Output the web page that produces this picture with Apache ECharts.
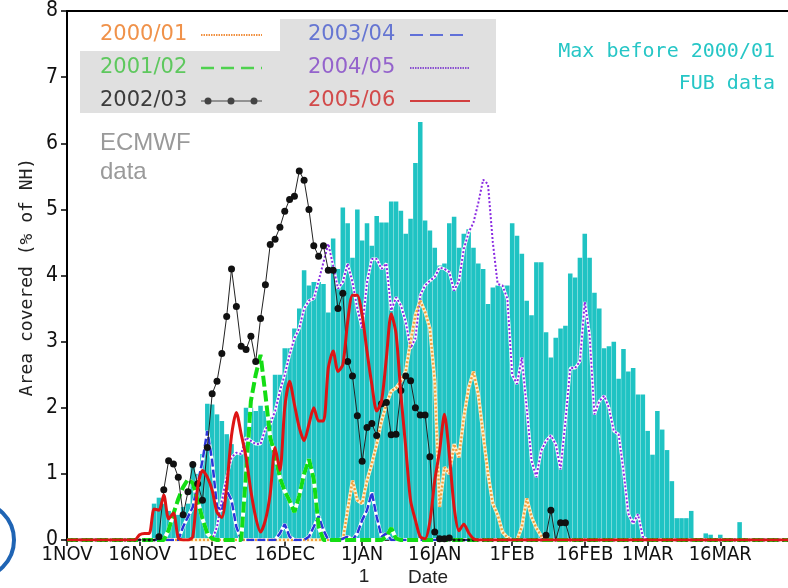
<!DOCTYPE html>
<html><head><meta charset="utf-8">
<script src="https://cdn.jsdelivr.net/npm/echarts@6/dist/echarts.min.js"></script>
<style>html,body{margin:0;padding:0;background:#fff}#c{width:788px;height:588px}</style>
</head><body><div id="c"></div>
<script>
const tickDays = [0,15,30,45,61,76,92,107,120,135];
const tickLabels = ['1NOV','16NOV','1DEC','16DEC','1JAN','16JAN','1FEB','16FEB','1MAR','16MAR'];
const yTicks = [0,1,2,3,4,5,6,7,8];

const maxBefore = [
0,0,0,0,0,0,0,0,0,0,
0,0,0,0,0,0,0,0,0.55,0.64,
0.55,0.44,0.4,0.38,0.5,0.55,1.15,1.0,1.3,2.06,
2.05,1.9,1.8,1.6,1.45,1.3,1.3,2.0,2.0,1.95,
2.03,1.95,1.85,2.5,2.5,2.9,2.9,3.2,3.5,4.08,
3.85,3.9,3.9,3.87,3.44,4.56,4.1,5.03,4.79,4.27,
5.0,4.53,4.79,4.45,4.9,4.8,4.8,5.12,5.12,4.98,
4.63,4.86,5.7,6.32,4.83,4.68,4.42,4.15,4.18,4.79,
4.89,4.42,4.63,4.7,4.42,4.18,4.1,3.57,3.82,3.85,
3.85,3.85,4.79,4.6,4.33,3.62,3.4,4.2,4.2,3.14,
2.76,3.06,3.2,3.24,4.03,3.97,4.27,4.63,4.27,3.74,
3.5,2.9,2.93,3.0,2.44,2.89,2.55,2.6,2.2,2.2,
1.65,1.29,1.95,1.67,1.36,0.89,0.33,0.33,0.33,0.44,
0,0,0.1,0.08,0.03,0.08,0,0,0,0.27,
0,0,0,0,0,0,0,0,0,0];

const s2000 = [
0,0,0,0,0,0,0,0,0,0, 0,0,0,0,0,0,0,0,0,0,
0,0,0,0,0,0,0,0,0,0, 0,0,0,0,0,0,0,0,0,0,
0,0,0,0,0,0,0,0,0,0,
0,0,0,0,0,0,0,0,0.45,0.9,
0.6,0.55,0.9,1.15,1.45,1.8,2.05,2.25,2.3,2.4,
2.55,3.0,3.4,3.62,3.45,3.2,2.4,0.5,1.1,1.0,
1.45,1.25,1.85,2.3,2.55,2.2,1.6,1.0,0.55,0.38,
0.12,0.04,0,0,0.2,0.63,0.35,0.18,0.06,0,
0,0,0,0,0,0,0,0,0,0, 0,0,0,0,0,0,0,0,0,0,
0,0,0,0,0,0,0,0,0,0, 0,0,0,0,0,0,0,0,0,0,
0,0,0,0,0,0,0,0,0,0];

const s2001 = [
0,0,0,0,0,0,0,0,0,0, 0,0,0,0,0,0,0,0,0,0,
0,0.15,0.4,0.62,0.8,0.92,0.86,0.6,0.32,0.1,
0.02,0,0,0,0,0,0,1.0,2.1,2.5,
2.8,2.2,1.55,1.28,0.94,0.74,0.59,0.42,0.67,1.0,
1.22,0.92,0.2,0,0,0,0,0,0,0,
0,0,0,0,0,0,0.05,0.18,0.02,0,
0,0,0,0,0,0,0,0,0,0, 0,0,0,0,0,0,0,0,0,0,
0,0,0,0,0,0,0,0,0,0, 0,0,0,0,0,0,0,0,0,0,
0,0,0,0,0,0,0,0,0,0, 0,0,0,0,0,0,0,0,0,0,
0,0,0,0,0,0,0,0,0,0, 0,0,0,0,0,0,0,0,0,0];

const s2002 = [
0,0,0,0,0,0,0,0,0,0,
0,0,0,0,0,0,0,0,0,0.05,
0.76,1.2,1.15,0.95,0.38,0.73,1.14,0.85,0.6,1.4,
2.21,2.4,2.82,3.38,4.1,3.53,2.93,2.88,3.08,2.7,
3.35,3.86,4.47,4.55,4.73,4.97,5.15,5.2,5.58,5.44,
5.0,4.45,4.29,4.45,4.08,4.08,3.5,3.73,2.7,2.48,
1.88,1.19,1.7,1.76,1.58,2.06,2.08,1.59,1.6,2.26,
2.48,2.41,2.0,1.89,1.89,1.26,0.12,0.02,0.02,0.03,
0,0,0,0,0,0,0,0,0,0,
0,0,0,0,0,0,0,0,0,0.07,
0.45,0,0.26,0.26,0,0,0,0,0,0,
0,0,0,0,0,0,0,0,0,0, 0,0,0,0,0,0,0,0,0,0,
0,0,0,0,0,0,0,0,0,0, 0,0,0,0,0,0,0,0,0,0];

const s2003 = [
0,0,0,0,0,0,0,0,0,0, 0,0,0,0,0,0,0,0,0,0,
0,0,0,0,0.2,0.35,0.5,0.85,1.2,1.65,
1.2,0.5,0.45,0.75,0.6,0.2,0,0,0,0,
0,0,0,0,0.1,0.24,0.05,0,0,0,
0.05,0.2,0.36,0.15,0,0,0,0.02,0.05,0,
0.1,0.3,0.45,0.72,0.35,0.05,0.1,0,0,0,
0,0,0,0,0,0,0,0,0,0, 0,0,0,0,0,0,0,0,0,0,
0,0,0,0,0,0,0,0,0,0, 0,0,0,0,0,0,0,0,0,0,
0,0,0,0,0,0,0,0,0,0, 0,0,0,0,0,0,0,0,0,0,
0,0,0,0,0,0,0,0,0,0, 0,0,0,0,0,0,0,0,0,0];

const s2004 = [
0,0,0,0,0,0,0,0,0,0, 0,0,0,0,0,0,0,0,0,0,
0,0,0,0,0,0,0,0,0,0,
0,0.2,0.6,0.95,1.25,1.32,1.3,1.55,1.5,1.45,
1.45,1.68,1.75,1.95,2.25,2.5,2.8,3.05,3.2,3.5,
3.62,3.65,3.92,4.2,4.48,4.15,3.8,3.9,4.18,3.9,
3.5,3.2,3.9,4.25,4.25,4.1,4.18,3.47,3.67,3.55,
3.3,2.9,3.05,3.7,3.85,3.92,3.98,4.12,4.1,4.05,
3.77,3.92,4.4,4.65,4.8,5.1,5.45,5.38,4.5,3.87,
3.85,3.65,2.5,2.36,2.76,2.0,1.2,0.95,1.35,1.5,
1.58,1.45,1.07,1.8,2.6,2.6,2.7,3.6,3.1,1.9,
2.1,2.18,2.0,1.65,1.6,1.05,0.4,0.25,0.39,0.05,
0,0,0,0,0,0,0,0,0,0, 0,0,0,0,0,0,0,0,0,0,
0,0,0,0,0,0,0,0,0,0];

const s2005 = [
0,0,0,0,0,0,0,0,0,0,
0,0,0,0,0,0.08,0.1,0.1,0.47,0.45,
0.68,0.32,0.41,0.03,0,0,0.05,0.8,1.05,0.95,
0.75,0.42,0.34,0.8,1.58,1.93,1.6,1.25,0.74,0.34,
0.12,0.3,0.7,1.4,1.05,2.0,2.4,2.05,1.7,1.5,
1.75,2.0,1.8,1.8,2.6,2.86,2.55,2.65,3.3,3.7,
3.7,3.4,2.85,2.35,1.95,2.1,2.75,3.42,3.12,2.2,
1.4,0.6,0.3,0.05,0.02,0.28,0.9,1.35,1.9,1.3,
0.5,0.14,0.24,0.11,0.02,0,0,0,0,0,
0,0,0,0,0,0,0,0,0,0, 0,0,0,0,0,0,0,0,0,0,
0,0,0,0,0,0,0,0,0,0, 0,0,0,0,0,0,0,0,0,0,
0,0,0,0,0,0,0,0,0,0, 0,0,0,0,0,0,0,0,0,0];

const days = maxBefore.map((_, i) => i);
const NARROW = "'Liberation Sans Narrow','DejaVu Sans Condensed','Liberation Sans',sans-serif";
const LEG = "'DejaVu Sans',sans-serif";
const MONO = "'DejaVu Sans Mono',monospace";

const chart = echarts.init(document.getElementById('c'), null, {renderer: 'canvas'});

function under(data, w, color) {
  return {type: 'line', data, symbol: 'none', silent: true, z: 3,
    lineStyle: {color: color || '#ffffff', width: w}};
}
function isTick(i) { return tickDays.indexOf(i) >= 0; }

chart.setOption({
  animation: false,
  backgroundColor: '#ffffff',
  grid: {left: 67, right: 0, top: 11, bottom: 48},
  xAxis: [{
    type: 'category', data: days, boundaryGap: false,
    axisLine: {lineStyle: {color: '#000', width: 1.5}},
    axisTick: {interval: isTick, length: 6, lineStyle: {color: '#000', width: 1.5}},
    axisLabel: {interval: isTick, margin: 5, color: '#111', fontFamily: NARROW, fontSize: 20,
      formatter: (v, i) => tickLabels[tickDays.indexOf(Number(v))] || ''},
    splitLine: {show: false}
  }, {
    type: 'category', data: days, boundaryGap: false, position: 'top',
    axisLine: {lineStyle: {color: '#000', width: 2}},
    axisTick: {show: false}, axisLabel: {show: false}
  }],
  yAxis: {
    type: 'value', min: 0, max: 8, interval: 1,
    axisLine: {show: true, lineStyle: {color: '#000', width: 2}},
    axisTick: {show: true, length: 6, lineStyle: {color: '#000', width: 1.5}},
    axisLabel: {margin: 9, color: '#111', fontFamily: NARROW, fontSize: 21,
      formatter: v => yTicks.indexOf(v) >= 0 ? String(v) : ''},
    splitLine: {show: false}
  },
  series: [
    {type: 'bar', data: maxBefore, barCategoryGap: '6%', itemStyle: {color: '#1fc3c3'}, z: 2},
    under(s2004, 3),
    {type: 'line', data: s2004, symbol: 'none', z: 4, lineStyle: {color: '#8a2be2', width: 2, type: [2, 2]}},
    under(s2000, 3.5, '#fff2cf'),
    {type: 'line', data: s2000, symbol: 'none', z: 4, lineStyle: {color: '#f0a040', width: 2.5, type: [2, 2]}},
    under(s2003, 3.5),
    {type: 'line', data: s2003, symbol: 'none', z: 4, lineStyle: {color: '#2a35d8', width: 2.5, type: [8, 3]}},
    under(s2001, 4),
    {type: 'line', data: s2001, symbol: 'none', z: 4, lineStyle: {color: '#14dd14', width: 4, type: [11, 4]}},
    {type: 'line', data: s2002, z: 5, symbol: 'circle', showAllSymbol: true,
      symbolSize: v => v > 0.01 ? 7 : 3,
      itemStyle: {color: '#111'}, lineStyle: {color: '#222', width: 1}},
    {type: 'line', data: s2005, symbol: 'none', z: 6, smooth: 0.25, lineStyle: {color: '#dd1515', width: 3}}
  ],
  graphic: [
    {type: 'circle', shape: {cx: -24, cy: 540, r: 38}, style: {fill: 'none', stroke: '#1f64b4', lineWidth: 4}, z: 10},
    {type: 'rect', shape: {x: 280, y: 19, width: 216, height: 94}, style: {fill: '#e0e0e0'}, z: 10},
    {type: 'rect', shape: {x: 80, y: 51, width: 200, height: 62}, style: {fill: '#e0e0e0'}, z: 10},
    {type: 'text', x: 100, y: 35, style: {text: '2000/01', fill: '#f0924a', font: '21px ' + LEG, textVerticalAlign: 'middle'}, z: 11},
    {type: 'text', x: 100, y: 68, style: {text: '2001/02', fill: '#5ec85e', font: '21px ' + LEG, textVerticalAlign: 'middle'}, z: 11},
    {type: 'text', x: 100, y: 101, style: {text: '2002/03', fill: '#3c3c3c', font: '21px ' + LEG, textVerticalAlign: 'middle'}, z: 11},
    {type: 'text', x: 308, y: 35, style: {text: '2003/04', fill: '#6676d2', font: '21px ' + LEG, textVerticalAlign: 'middle'}, z: 11},
    {type: 'text', x: 308, y: 68, style: {text: '2004/05', fill: '#9463cc', font: '21px ' + LEG, textVerticalAlign: 'middle'}, z: 11},
    {type: 'text', x: 308, y: 101, style: {text: '2005/06', fill: '#d24a4a', font: '21px ' + LEG, textVerticalAlign: 'middle'}, z: 11},
    {type: 'line', shape: {x1: 201, y1: 35, x2: 262, y2: 35}, style: {stroke: '#f09040', lineWidth: 2, lineDash: [1.5, 1]}, z: 11},
    {type: 'line', shape: {x1: 201, y1: 68, x2: 262, y2: 68}, style: {stroke: '#4fd24f', lineWidth: 2.5, lineDash: [13, 7]}, z: 11},
    {type: 'line', shape: {x1: 201, y1: 101, x2: 262, y2: 101}, style: {stroke: '#444', lineWidth: 1}, z: 11},
    {type: 'circle', shape: {cx: 208, cy: 101, r: 3.5}, style: {fill: '#444'}, z: 12},
    {type: 'circle', shape: {cx: 231, cy: 101, r: 3.5}, style: {fill: '#444'}, z: 12},
    {type: 'circle', shape: {cx: 254, cy: 101, r: 3.5}, style: {fill: '#444'}, z: 12},
    {type: 'line', shape: {x1: 410, y1: 35, x2: 470, y2: 35}, style: {stroke: '#6070d8', lineWidth: 2, lineDash: [13, 7]}, z: 11},
    {type: 'line', shape: {x1: 410, y1: 68, x2: 470, y2: 68}, style: {stroke: '#8a50d0', lineWidth: 2, lineDash: [1.5, 1]}, z: 11},
    {type: 'line', shape: {x1: 410, y1: 101, x2: 470, y2: 101}, style: {stroke: '#d24040', lineWidth: 2}, z: 11},
    {type: 'text', x: 775, y: 52, style: {text: 'Max before 2000/01', fill: '#26c6c6', font: '20px ' + MONO, textAlign: 'right', textVerticalAlign: 'middle'}, z: 11},
    {type: 'text', x: 775, y: 84, style: {text: 'FUB data', fill: '#26c6c6', font: '20px ' + MONO, textAlign: 'right', textVerticalAlign: 'middle'}, z: 11},
    {type: 'text', x: 100, y: 143, style: {text: 'ECMWF', fill: '#9a9a9a', font: "24px 'Liberation Sans',Arial,sans-serif", textVerticalAlign: 'middle'}, z: 11},
    {type: 'text', x: 100, y: 172, style: {text: 'data', fill: '#9a9a9a', font: "24px 'Liberation Sans',Arial,sans-serif", textVerticalAlign: 'middle'}, z: 11},
    {type: 'text', x: 27, y: 277, rotation: Math.PI / 2, style: {text: 'Area covered (% of NH)', fill: '#222', font: '18px ' + MONO, textAlign: 'center', textVerticalAlign: 'middle'}, z: 11},
    {type: 'text', x: 364, y: 577, style: {text: '1', fill: '#222', font: "19px 'Liberation Sans',Arial,sans-serif", textAlign: 'center', textVerticalAlign: 'middle'}, z: 11},
    {type: 'text', x: 428, y: 578, style: {text: 'Date', fill: '#222', font: "19px 'Liberation Sans',Arial,sans-serif", textAlign: 'center', textVerticalAlign: 'middle'}, z: 11}
  ]
});
</script></body></html>
